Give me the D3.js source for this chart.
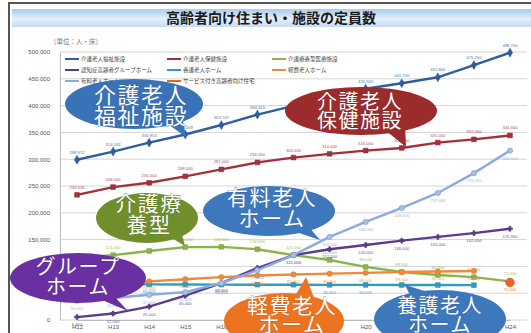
<!DOCTYPE html>
<html><head><meta charset="utf-8">
<script src="https://cdn.jsdelivr.net/npm/d3@7"></script>
<style>body{margin:0;background:#fff}svg{display:block}</style>
</head><body>
<svg id="c" width="531" height="333"></svg>
<script>
const years = ["H12","H13","H14","H15","H16","H17","H18","H19","H20","H21","H22","H23","H24"];
const fukushi = [298912,314192,330916,346069,363747,383326,399352,412807,431500,441700,452800,475700,498700];
const hoken   = [233536,248000,256000,268000,281000,294000,303000,310000,316000,321000,331000,337000,344300];
const ryoyo   = [116000,121000,128700,136000,136500,132000,121000,112000,99000,89500,84000,80000,72000];
const gh      = [5450,12000,25000,45400,69000,97000,121000,132000,140000,148000,155000,162000,170300];
const yogo    = [66800,66600,66400,66200,66000,65900,65800,65600,65500,65300,65200,65000,null];
const keihi   = [65000,68000,72000,76000,80000,83000,85000,86500,88000,89500,90500,91500,null];
const yuryo   = [36000,41000,47000,52000,69000,93000,121000,155000,183000,209000,237000,274000,316000];
const sakouju = [null,null,null,null,null,null,null,null,null,null,null,null,70000];
const yTicks  = [0,50000,100000,150000,200000,250000,300000,350000,400000,450000,500000];

const seriesNames = ["介護老人福祉施設","介護老人保健施設","介護療養型医療施設","認知症高齢者グループホーム","養護老人ホーム","軽費老人ホーム","有料老人ホーム","サービス付き高齢者向け住宅"];
const seriesVals = [fukushi,hoken,ryoyo,gh,yogo,keihi,yuryo,sakouju];
const colors = ["#2f5e9e","#a3303a","#8cb347","#5b3c8c","#2f9cc0","#f0893a","#8eaadc","#e8632a"];
const symbols = [d3.symbolDiamond,d3.symbolSquare,d3.symbolSquare,d3.symbolCross,d3.symbolSquare,d3.symbolCircle,d3.symbolCircle,d3.symbolCircle];
const labelBelow = [false,false,false,true,true,true,true,true];

const bubbles = [
  {cx:134,cy:104,rx:69,ry:25,fill:"#3a72b8",t:["介護老人","福祉施設"],fs:22,tx:141,ty:[103,124],tail:[[165,122],[182,116],[186,137]]},
  {cx:361,cy:111,rx:76,ry:24,fill:"#9c2b2b",t:["介護老人","保健施設"],fs:20,tx:360,ty:[109,128],tail:[[385,130],[405,124],[406,147]]},
  {cx:147,cy:218,rx:51,ry:25,fill:"#6f8f2d",t:["介護療","養型"],fs:21,tx:149,ty:[211,232],tail:[[165,234],[180,228],[185,246]]},
  {cx:269,cy:211,rx:66,ry:25,fill:"#3d78bd",t:["有料老人","ホーム"],fs:21,tx:272,ty:[205,226],tail:[[290,230],[308,226],[320,240]]},
  {cx:78,cy:278,rx:68,ry:25,fill:"#6a2fa0",t:["グループ","ホーム"],fs:20,tx:78,ty:[274,294],tail:[[95,297],[112,294],[128,311]]},
  {cx:284,cy:321,rx:60,ry:28,fill:"#ec7420",t:["軽費老人","ホーム"],fs:21,tx:292,ty:[313,332],tail:[[295,296],[315,300],[306,277]]},
  {cx:440,cy:319,rx:66,ry:29,fill:"#3d78bd",t:["養護老人","ホーム"],fs:20,tx:440,ty:[313,332],tail:[[410,295],[428,292],[405,285]]}
];
const inBubble = (px,py)=>bubbles.some(b=>{const dx=(px-b.cx)/(b.rx+8),dy=(py-b.cy)/(b.ry+4);return dx*dx+dy*dy<1;});

const svg = d3.select("#c");
const defs = svg.append("defs");
const tg = defs.append("linearGradient").attr("id","tband").attr("x1",0).attr("y1",0).attr("x2",0).attr("y2",1);
tg.append("stop").attr("offset","0%").attr("stop-color","#a9cbee");
tg.append("stop").attr("offset","55%").attr("stop-color","#e4effa");
tg.append("stop").attr("offset","100%").attr("stop-color","#c7dcf2");

svg.append("rect").attr("x",9).attr("y",3).attr("width",530).attr("height",340).attr("fill","#fff").attr("stroke","#555").attr("stroke-width",2);
svg.append("rect").attr("x",12).attr("y",9).attr("width",519).attr("height",18).attr("fill","url(#tband)");
svg.append("text").attr("x",271).attr("y",23).attr("text-anchor","middle")
  .attr("font-family","Noto Sans CJK JP").attr("font-weight","bold").attr("font-size",14).attr("fill","#1a1a1a")
  .text("高齢者向け住まい・施設の定員数");
svg.append("text").attr("x",50).attr("y",44).attr("font-family","Noto Sans CJK JP").attr("font-size",6.5).attr("fill","#777").text("（単位：人・床）");

const x = d3.scalePoint().domain(years).range([77,510]);
const y = d3.scaleLinear().domain([0,500000]).range([320,52]);

svg.append("g").selectAll("line").data(yTicks).join("line")
  .attr("x1",60).attr("x2",527).attr("y1",d=>y(d)).attr("y2",d=>y(d))
  .attr("stroke","#d4d4d4").attr("stroke-width",1);
const ya = svg.append("g").attr("transform","translate(60,0)")
  .call(d3.axisLeft(y).tickValues(yTicks).tickFormat(d3.format(",")).tickSize(0).tickPadding(10));
ya.select(".domain").attr("stroke","#bbb");
ya.selectAll("text").attr("font-family","Liberation Sans").attr("font-size",6).attr("fill","#555");
const xa = svg.append("g").attr("transform","translate(0,320)")
  .call(d3.axisBottom(x).tickSize(0).tickPadding(5));
xa.select(".domain").attr("stroke","#bbb");
xa.selectAll("text").attr("font-family","Liberation Sans").attr("font-size",6).attr("fill","#555");

const line = d3.line().defined(d=>d.v!=null).x(d=>x(d.k)).y(d=>y(d.v));
seriesVals.forEach((vals,i)=>{
  const pts = years.map((k,j)=>({k,v:vals[j]}));
  svg.append("path").datum(pts).attr("d",line).attr("fill","none")
    .attr("stroke",colors[i]).attr("stroke-width",2.4);
  const valid = pts.filter(d=>d.v!=null);
  svg.append("g").selectAll("path").data(valid).join("path")
    .attr("transform",d=>`translate(${x(d.k)},${y(d.v)})`)
    .attr("d",d3.symbol().type(symbols[i]).size(i===7?60:(i===3?14:22)))
    .attr("fill",i===6?"#a8bfe6":colors[i]).attr("stroke",d3.color(colors[i]).darker(0.3)).attr("stroke-width",0.6);
  const lab = valid.filter(d=>!inBubble(x(d.k), y(d.v)+(labelBelow[i]?9:-6)));
  svg.append("g").selectAll("text").data(lab).join("text")
    .attr("x",d=>x(d.k)).attr("y",d=>y(d.v)+(labelBelow[i]?9:-6))
    .attr("text-anchor","middle").attr("font-family","Liberation Sans").attr("font-size",4.2)
    .attr("fill",colors[i]).attr("opacity",0.85).text(d=>d3.format(",")(d.v));
});

const lg = svg.append("g");
seriesNames.forEach((n,i)=>{
  const col=i%3,row=Math.floor(i/3);
  const lx=[65,167,272][col], ly=[59,70,81][row];
  lg.append("line").attr("x1",lx).attr("x2",lx+14).attr("y1",ly).attr("y2",ly).attr("stroke",colors[i]).attr("stroke-width",2);
  lg.append("text").attr("x",lx+16).attr("y",ly+2).attr("font-family","Noto Sans CJK JP").attr("font-size",5.5).attr("fill","#444").text(n);
});

const bg = svg.append("g");
bubbles.forEach(b=>{
  bg.append("polygon").attr("points",b.tail.map(p=>p.join(",")).join(" ")).attr("fill",b.fill);
  bg.append("ellipse").attr("cx",b.cx).attr("cy",b.cy).attr("rx",b.rx).attr("ry",b.ry).attr("fill",b.fill);
  b.t.forEach((s,j)=>{
    bg.append("text").attr("x",b.tx).attr("y",b.ty[j]).attr("text-anchor","middle")
      .attr("font-family","Noto Sans CJK JP").attr("font-size",b.fs).attr("letter-spacing",1.5)
      .attr("fill","#fff").attr("stroke",d3.color(b.fill).darker(0.8)).attr("stroke-width",0.6)
      .attr("paint-order","stroke").text(s);
  });
});
</script>
</body></html>
